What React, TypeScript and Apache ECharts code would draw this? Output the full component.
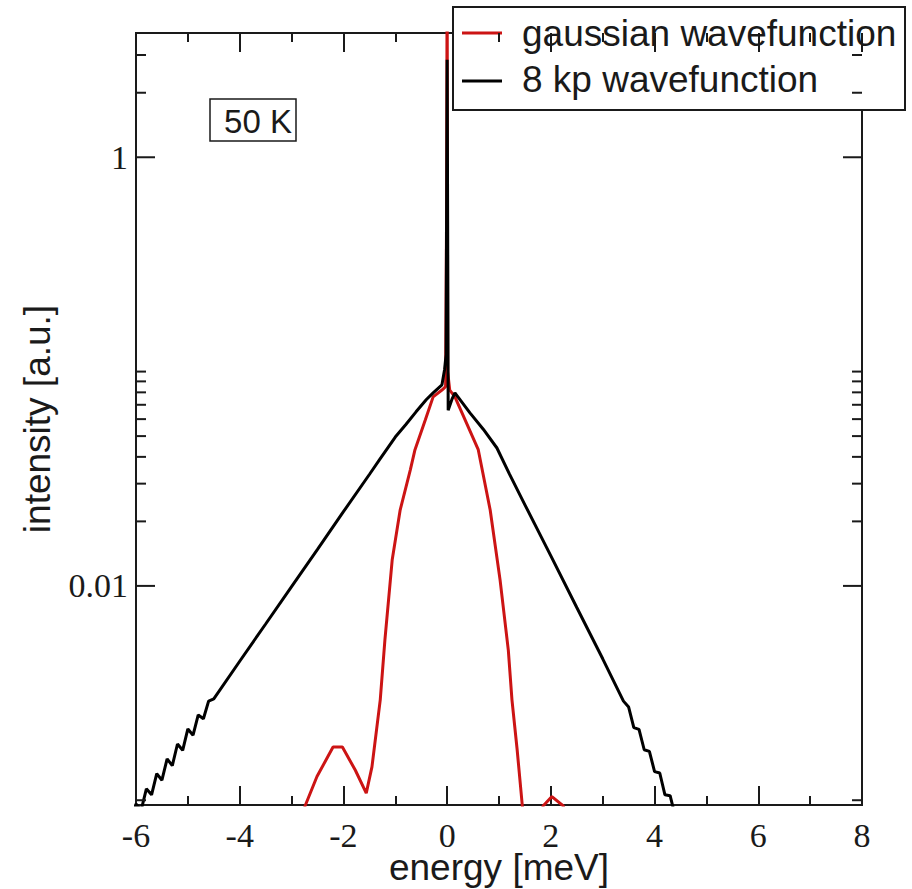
import React, { useEffect, useRef } from "react";
import * as echarts from "echarts";

// ---- data ----
const blackEnergy = [-6.1, -6.0, -5.9, -5.8, -5.7, -5.6, -5.5, -5.4, -5.3, -5.2, -5.1, -5.0, -4.9, -4.8, -4.7, -4.6, -4.5, -4, -3.5, -3, -2.5, -2, -1.5, -1.3, -1, -0.8, -0.6, -0.4, -0.27, -0.1, -0.05, -0.02, 0, 0.01, 0.02, 0.1, 0.15, 0.44, 0.7, 0.96, 1.2, 1.5, 2, 2.5, 3, 3.4, 3.5, 3.6, 3.7, 3.8, 3.9, 4.0, 4.1, 4.2, 4.3, 4.4, 4.5];
const blackIntensity = [0.00082, 0.00096, 0.0009, 0.00113, 0.00106, 0.00133, 0.00124, 0.00156, 0.00145, 0.00183, 0.00171, 0.00215, 0.00201, 0.0025, 0.0024, 0.0029, 0.00297, 0.00445, 0.00664, 0.00993, 0.0148, 0.0222, 0.0331, 0.0389, 0.0495, 0.0565, 0.0649, 0.0741, 0.0796, 0.0867, 0.102, 0.12, 2.85, 0.5, 0.066, 0.075, 0.0796, 0.0642, 0.0537, 0.0440, 0.0333, 0.0239, 0.0138, 0.00793, 0.00457, 0.0029, 0.00272, 0.00218, 0.00214, 0.00172, 0.00169, 0.00136, 0.00134, 0.00106, 0.00105, 0.00084, 0.00079];

const redEnergy = [-3.0, -2.74, -2.51, -2.2, -2.02, -1.77, -1.56, -1.45, -1.29, -1.2, -1.06, -0.906, -0.71, -0.62, -0.42, -0.27, -0.1, -0.03, -0.01, 0, 0.01, 0.05, 0.15, 0.6, 0.83, 1.02, 1.18, 1.25, 1.35, 1.45, 1.6, 1.85, 2.02, 2.24, 2.4];
const redIntensity = [0.0005, 0.00094, 0.00129, 0.00177, 0.00177, 0.00138, 0.00108, 0.00143, 0.00294, 0.0056, 0.0132, 0.0226, 0.0348, 0.0432, 0.0596, 0.0762, 0.082, 0.085, 0.6, 10, 0.1, 0.082, 0.0762, 0.0432, 0.0226, 0.0107, 0.005, 0.00294, 0.00172, 0.00094, 0.0005, 0.00094, 0.00104, 0.00094, 0.0006];

const X_MIN = -6;
const X_MAX = 8;
const X_STEP = 2;
const Y_MIN = 0.00095;
const Y_MAX = 3.8;
const yLabelValues = [0.01, 1];
const yMajorTicks = [0.01, 1];
const yMinorTicks = [0.001, 0.02, 0.03, 0.04, 0.05, 0.06, 0.07, 0.08, 0.09, 0.1, 2, 3];

const seriesNames = ["gaussian wavefunction", "8 kp wavefunction"];
const panelLabel = "50 K";

const RED = "#cc1414";
const INK = "#1a1a1a";

function tickSeries(values: number[], len: number) {
  return {
    type: "custom",
    silent: true,
    clip: false,
    z: 5,
    data: values.map((v) => [X_MIN, v]),
    encode: { x: 0, y: 1 },
    renderItem: (_p: any, api: any) => {
      const v = api.value(1);
      const a = api.coord([X_MIN, v]);
      const b = api.coord([X_MAX, v]);
      const style = { stroke: INK, lineWidth: 2 };
      return {
        type: "group",
        children: [
          { type: "line", shape: { x1: a[0], y1: a[1], x2: a[0] + len, y2: a[1] }, style },
          { type: "line", shape: { x1: b[0] - len, y1: b[1], x2: b[0], y2: b[1] }, style },
        ],
      };
    },
  };
}

export default function App() {
  const ref = useRef<HTMLDivElement>(null);
  useEffect(() => {
    if (!ref.current) return;
    const chart = echarts.init(ref.current, undefined, { renderer: "svg" });
    const isLabel = (v: number) => yLabelValues.some((t) => Math.abs(Math.log10(v) - Math.log10(t)) < 1e-6);
    const xAxisBase = {
      type: "value",
      min: X_MIN,
      max: X_MAX,
      interval: X_STEP,
      splitLine: { show: false },
      axisLine: { show: false },
      axisTick: { show: true, inside: true, length: 19, lineStyle: { color: INK, width: 2 } },
      minorTick: { show: true, splitNumber: 2, length: 9, lineStyle: { color: INK, width: 2 } },
      minorSplitLine: { show: false },
    };
    chart.setOption({
      animation: false,
      grid: {
        left: 136,
        right: 50,
        top: 33,
        bottom: 84,
        containLabel: false,
        outerBoundsMode: "none",
        show: true,
        borderColor: INK,
        borderWidth: 2,
        backgroundColor: "transparent",
      },
      xAxis: [
        {
          ...xAxisBase,
          position: "bottom",
          name: "energy [meV]",
          nameLocation: "middle",
          nameGap: 44,
          nameMoveOverlap: false,
          nameTextStyle: { fontFamily: "Liberation Sans", fontSize: 37, lineHeight: 36, color: INK },
          axisLabel: { fontFamily: "Liberation Serif", fontSize: 34, lineHeight: 26, color: INK, margin: 17 },
        },
        {
          ...xAxisBase,
          position: "top",
          axisLabel: { show: false },
        },
      ],
      yAxis: {
        type: "log",
        logBase: 10,
        min: Y_MIN,
        max: Y_MAX,
        splitLine: { show: false },
        axisLine: { show: false },
        axisTick: { show: false },
        name: "intensity [a.u.]",
        nameLocation: "middle",
        nameGap: 80,
        nameMoveOverlap: false,
        nameTextStyle: { fontFamily: "Liberation Sans", fontSize: 37, color: INK },
        axisLabel: {
          fontFamily: "Liberation Serif",
          fontSize: 34,
          color: INK,
          margin: 8,
          showMinLabel: false,
          showMaxLabel: false,
          formatter: (v: number) => (isLabel(v) ? String(Number(v.toPrecision(6))) : ""),
        },
      },
      series: [
        {
          name: seriesNames[0],
          type: "line",
          data: redEnergy.map((x, i) => [x, redIntensity[i]]),
          showSymbol: false,
          symbol: "none",
          lineStyle: { color: RED, width: 3 },
          z: 2,
        },
        {
          name: seriesNames[1],
          type: "line",
          data: blackEnergy.map((x, i) => [x, blackIntensity[i]]),
          showSymbol: false,
          symbol: "none",
          lineStyle: { color: "#000", width: 3 },
          z: 3,
        },
        tickSeries(yMajorTicks, 19),
        tickSeries(yMinorTicks, 10),
      ],
      graphic: [
        {
          type: "group",
          z: 100,
          children: [
            { type: "rect", shape: { x: 453, y: 7, width: 452, height: 103 }, style: { fill: "#fff", stroke: INK, lineWidth: 2 } },
            { type: "line", shape: { x1: 462, y1: 33, x2: 502, y2: 33 }, style: { stroke: RED, lineWidth: 3 } },
            { type: "text", x: 522, y: 33, style: { text: seriesNames[0], fontFamily: "Liberation Sans", fontSize: 37, fill: INK, verticalAlign: "middle" } },
            { type: "line", shape: { x1: 462, y1: 81, x2: 502, y2: 81 }, style: { stroke: "#000", lineWidth: 3 } },
            { type: "text", x: 522, y: 79, style: { text: seriesNames[1], fontFamily: "Liberation Sans", fontSize: 37, fill: INK, verticalAlign: "middle" } },
            { type: "rect", shape: { x: 210, y: 99, width: 86, height: 42 }, style: { fill: "#fff", stroke: INK, lineWidth: 1.5 } },
            { type: "text", x: 258, y: 121, style: { text: panelLabel, fontFamily: "Liberation Sans", fontSize: 33, fill: INK, align: "center", verticalAlign: "middle" } },
          ],
        },
      ],
    });
    return () => chart.dispose();
  }, []);
  return <div ref={ref} style={{ position: "absolute", left: 0, top: 0, width: 912, height: 889 }} />;
}
